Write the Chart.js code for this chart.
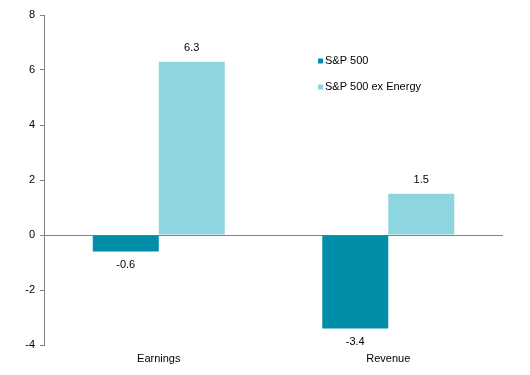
<!DOCTYPE html>
<html>
<head>
<meta charset="utf-8">
<script src="https://cdn.jsdelivr.net/npm/chart.js@4/dist/chart.umd.min.js"></script>
<style>
  html, body { margin: 0; padding: 0; background: #fff; }
  #wrap { width: 530px; height: 375px; }
</style>
</head>
<body>
<div id="wrap"><canvas id="chart" width="530" height="375"></canvas></div>
<script>
// data
const categories = ['Earnings', 'Revenue'];
const sp500 = [-0.6, -3.4];
const sp500exEnergy = [6.3, 1.5];
const seriesNames = ['S&P 500', 'S&P 500 ex Energy'];
const yTicks = [-4, -2, 0, 2, 4, 6, 8];

const colors = ['#008EA8', '#8DD5E1'];
const fontFamily = '"Liberation Sans", Arial, sans-serif';

// value labels above / below each bar
const barLabels = {
  id: 'barLabels',
  afterDatasetsDraw(chart) {
    const ctx = chart.ctx;
    ctx.save();
    ctx.font = '11px ' + fontFamily;
    ctx.fillStyle = '#000';
    ctx.textAlign = 'center';
    ctx.textBaseline = 'middle';
    chart.data.datasets.forEach((ds, i) => {
      chart.getDatasetMeta(i).data.forEach((bar, j) => {
        const v = ds.data[j];
        const y = v >= 0 ? bar.y - 14 : bar.y + 13;
        ctx.fillText(v.toFixed(1), bar.x, y);
      });
    });
    ctx.restore();
  }
};

// legend inside the plot, upper right
const insideLegend = {
  id: 'insideLegend',
  afterDraw(chart) {
    const ctx = chart.ctx;
    ctx.save();
    ctx.font = '11px ' + fontFamily;
    ctx.textBaseline = 'middle';
    seriesNames.forEach((name, i) => {
      const y = 61 + i * 26;
      ctx.fillStyle = colors[i];
      ctx.fillRect(318, y - 2.5, 5, 5);
      ctx.fillStyle = '#000';
      ctx.fillText(name, 325, y);
    });
    ctx.restore();
  }
};

new Chart(document.getElementById('chart'), {
  type: 'bar',
  data: {
    labels: categories,
    datasets: [
      { label: seriesNames[0], data: sp500, backgroundColor: colors[0] },
      { label: seriesNames[1], data: sp500exEnergy, backgroundColor: colors[1] }
    ]
  },
  options: {
    responsive: false,
    animation: false,
    layout: { padding: { top: 15, right: 27, left: 0, bottom: 0 } },
    datasets: { bar: { categoryPercentage: 0.575, barPercentage: 1 } },
    plugins: { legend: { display: false }, tooltip: { enabled: false } },
    scales: {
      x: {
        grid: { display: false, drawTicks: false },
        border: { display: false },
        ticks: { color: '#000', font: { family: fontFamily, size: 11 }, padding: 7 },
        afterFit(scale) { scale.height = 30; }
      },
      y: {
        min: -4,
        max: 8,
        afterBuildTicks(scale) { scale.ticks = yTicks.map(v => ({ value: v })); },
        grid: {
          drawOnChartArea: true,
          color: c => (c.tick && c.tick.value === 0 ? '#808080' : 'rgba(0,0,0,0)'),
          tickColor: '#808080',
          tickLength: 4
        },
        border: { color: '#808080' },
        ticks: { color: '#000', font: { family: fontFamily, size: 11 }, padding: 5 },
        afterFit(scale) { scale.width = 44; }
      }
    }
  },
  plugins: [barLabels, insideLegend]
});
</script>
</body>
</html>
